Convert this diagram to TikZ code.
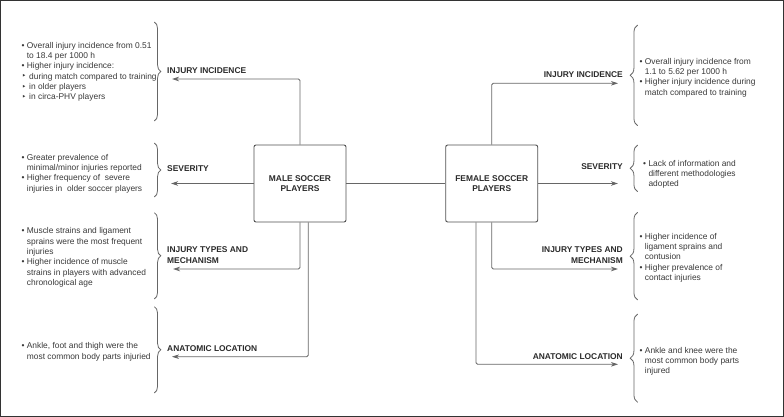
\documentclass[tikz,border=0pt]{standalone}
\usepackage{fontspec}
\setmainfont{Liberation Sans}
\newfontfamily\dejavu{DejaVu Sans}
\usetikzlibrary{arrows.meta,decorations.pathreplacing}
\definecolor{txt}{HTML}{383838}
\definecolor{labc}{HTML}{2A2A2A}
\definecolor{ln}{HTML}{666666}
\definecolor{boxc}{HTML}{505050}
\newcommand{\bu}{\llap{\textbullet\hspace{2.4pt}}}
\newcommand{\tri}{\llap{\makebox[5pt][l]{\raisebox{0.2pt}{\dejavu\fontsize{7.5}{8}\selectfont ‣}}}\hspace*{2.3pt}}
\begin{document}
\begin{tikzpicture}[x=1pt,y=-1pt,
  body/.style={font=\fontsize{8.4}{10.3}\selectfont, text=txt, align=left, inner sep=0pt, anchor=north west},
  lab/.style={font=\bfseries\fontsize{8.4}{10.3}\selectfont, text=labc, inner sep=0pt},
  player/.style={draw=boxc, line width=0.9pt, rounded corners=2pt, minimum width=92pt, minimum height=77pt, align=center, font=\bfseries\fontsize{8.4}{10.3}\selectfont, text=labc, fill=white},
  conn/.style={draw=ln, line width=0.8pt, rounded corners=1.5pt, -{Stealth[length=7pt,width=4.5pt,inset=2pt]}},
  link/.style={draw=ln, line width=0.8pt},
  lbrace/.style={draw=ln, line width=0.8pt, decorate, decoration={brace, amplitude=6.5pt}},
  rbrace/.style={draw=ln, line width=0.8pt, decorate, decoration={brace, amplitude=7.5pt}}
]
\useasboundingbox (0,0) rectangle (784,417);
\draw[line width=1.4pt, draw=black!80] (0.7,0.7) rectangle (783.3,416.3);

% players
\node[player] (male) at (300,183.5) {MALE SOCCER\\PLAYERS};
\node[player] (female) at (491.7,183.5) {FEMALE SOCCER\\PLAYERS};

% labels left
\node[lab, anchor=west] (l1) at (167,71) {INJURY INCIDENCE};
\node[lab, anchor=west] (l2) at (167,169) {SEVERITY};
\node[lab, anchor=west, align=left] (l3) at (167,255) {INJURY TYPES AND\\MECHANISM};
\node[lab, anchor=west] (l4) at (167,349) {ANATOMIC LOCATION};
% labels right
\node[lab, anchor=east] (r1) at (623,75) {INJURY INCIDENCE};
\node[lab, anchor=east] (r2) at (623,166.7) {SEVERITY};
\node[lab, anchor=east, align=right] (r3) at (623,255) {INJURY TYPES AND\\MECHANISM};
\node[lab, anchor=east] (r4) at (623,357) {ANATOMIC LOCATION};

% arrow ends
\coordinate (mA) at (172,79);
\coordinate (mB) at (171,183.5);
\coordinate (mC) at (173,269);
\coordinate (mD) at (172,356.7);
\coordinate (fA) at (618,83.3);
\coordinate (fB) at (618,183.5);
\coordinate (fC) at (618,269);
\coordinate (fD) at (618,364.3);

\draw[link] (male.east) -- (female.west);
\draw[conn] (male.north) |- (mA);
\draw[conn] (male.west) -- (mB);
\draw[conn] (male.south) |- (mC);
\draw[conn] ([xshift=8.3pt]male.south) |- (mD);
\draw[conn] (female.north) |- (fA);
\draw[conn] (female.east) -- (fB);
\draw[conn] (female.south) |- (fC);
\draw[conn] ([xshift=-15.7pt]female.south) |- (fD);

% braces
\draw[lbrace] (154.3,22) -- (154.3,121);
\draw[lbrace] (154.3,143) -- (154.3,197);
\draw[lbrace] (154.3,212.7) -- (154.3,299);
\draw[lbrace] (154.3,306.7) -- (154.3,393);
\draw[rbrace] (637.7,125.7) -- (637.7,25);
\draw[rbrace] (637.7,191.7) -- (637.7,145);
\draw[rbrace] (637.7,300) -- (637.7,212.3);
\draw[rbrace] (637.7,402.3) -- (637.7,314);

% left texts
\node[body] (t1) at (26.7,42) {\bu Overall injury incidence from 0.51\\to 18.4 per 1000 h\\\bu Higher injury incidence:\\\tri during match compared to training\\\tri in older players\\\tri in circa-PHV players};
\node[body] (t2) at (26.7,154) {\bu Greater prevalence of\\minimal/minor injuries reported\\\bu Higher frequency of\ \ severe\\injuries in\ \ older soccer players};
\node[body] (t3) at (26.7,227.7) {\bu Muscle strains and ligament\\sprains were the most frequent\\injuries\\\bu Higher incidence of muscle\\strains in players with advanced\\chronological age};
\node[body] (t4) at (26.7,342.7) {\bu Ankle, foot and thigh were the\\most common body parts injuried};

% right texts
\node[body] (u1) at (644.7,58) {\bu Overall injury incidence from\\1.1 to 5.62 per 1000 h\\\bu Higher injury incidence during\\match compared to training};
\node[body] (u2) at (648.3,160) {\bu Lack of information and\\different methodologies\\adopted};
\node[body] (u3) at (644.7,233) {\bu Higher incidence of\\ligament sprains and\\contusion\\\bu Higher prevalence of\\contact injuries};
\node[body] (u4) at (644.7,347) {\bu Ankle and knee were the\\most common body parts\\injured};
\end{tikzpicture}
\end{document}
